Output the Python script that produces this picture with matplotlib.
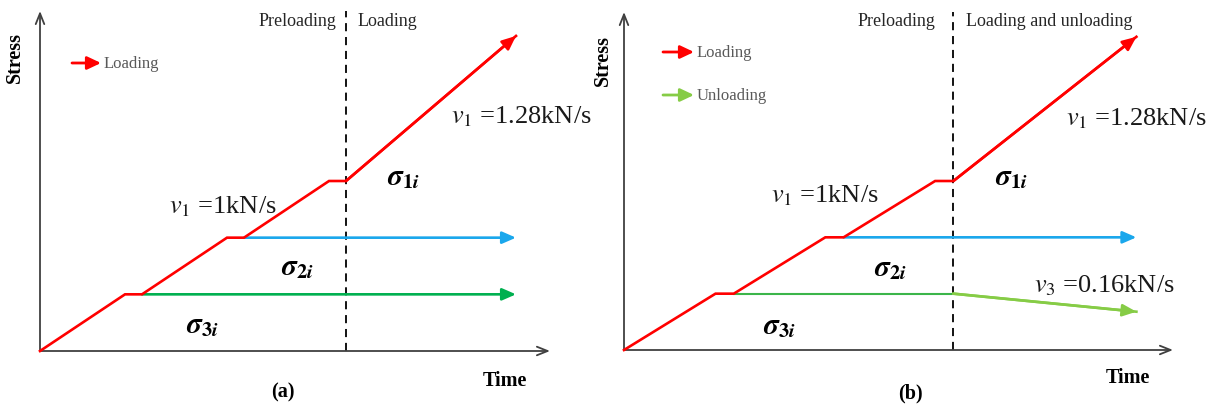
import matplotlib
matplotlib.use("Agg")
import matplotlib.pyplot as plt

plt.rcParams['font.family'] = ['Liberation Serif', 'DejaVu Serif']
plt.rcParams['mathtext.fontset'] = 'stix'

# Loading schedule (time in s, stress in kN): ramp at v1 = 1 kN/s with
# short holds, then the final ramp at v1 = 1.28 kN/s
time_pts = [0, 1, 1.2, 2.2, 2.4, 3.4, 3.6, 5.6]
stress_pts = [0, 1, 1, 2, 2, 3, 3, 3 + 1.28 * 2]

sigma3_level = 1.0
sigma2_level = 2.0
t_sigma3_start = 1.2
t_sigma2_start = 2.4
t_switch = 3.6
t_end = 5.6
v3_rate = 0.16
unload_time = [t_switch, t_end]
unload_stress = [sigma3_level, sigma3_level - v3_rate * (t_end - t_switch)]

axis_max = 6.0

RED = '#ff0000'
BLUE = '#1aa7ec'
GREEN = '#00b050'
GREEN_B = '#3cb54a'
LIGHT_GREEN = '#86cc46'
AXIS = '#404040'
GREY_TXT = '#595959'
TXT = '#1a1a1a'

W, H = 1213, 406
fig = plt.figure(figsize=(W / 100, H / 100), dpi=100)


def fpos(x, y):
    return x / W, 1 - y / H


def ftext(x, y, s, **kw):
    fx, fy = fpos(x, y)
    fig.text(fx, fy, s, transform=fig.transFigure, **kw)


def arrow(ax, p0, p1, color, lw, **kw):
    ax.annotate('', xy=p1, xytext=p0,
                arrowprops=dict(arrowstyle='-|>,head_length=0.55,head_width=0.24',
                                color=color, lw=lw, shrinkA=0, shrinkB=0,
                                mutation_scale=15),
                annotation_clip=False, **kw)


def axes_frame(ax):
    ax.set_xlim(0, axis_max)
    ax.set_ylim(0, axis_max)
    ax.axis('off')
    for end in [(axis_max, 0), (0, axis_max)]:
        ax.annotate('', xy=end, xytext=(0, 0),
                    arrowprops=dict(arrowstyle='->,head_length=0.55,head_width=0.22',
                                    color=AXIS, lw=1.3, shrinkA=0, shrinkB=0,
                                    mutation_scale=14),
                    annotation_clip=False)
    ax.plot([t_switch, t_switch], [0, axis_max], color='black', lw=1.3,
            linestyle=(0, (4.5, 3.2)), clip_on=False)


def loading_path(ax):
    ax.plot(time_pts, stress_pts, color=RED, lw=1.9, solid_joinstyle='miter',
            clip_on=False, zorder=4)
    arrow(ax, (time_pts[-2], stress_pts[-2]), (time_pts[-1], stress_pts[-1]), RED, 1.9)


# ---- panel (a)
ax_a = fig.add_axes([40 / W, (H - 352) / H, 510 / W, 340 / H])
axes_frame(ax_a)
arrow(ax_a, (t_sigma2_start, sigma2_level), (t_end, sigma2_level), BLUE, 1.9)
arrow(ax_a, (t_sigma3_start, sigma3_level), (t_end, sigma3_level), GREEN, 1.9)
loading_path(ax_a)

# ---- panel (b)
ax_b = fig.add_axes([624 / W, (H - 351) / H, 549 / W, 338 / H])
axes_frame(ax_b)
arrow(ax_b, (t_sigma2_start, sigma2_level), (t_end, sigma2_level), BLUE, 1.9)
ax_b.plot([t_sigma3_start, t_switch], [sigma3_level, sigma3_level], color=GREEN_B, lw=1.5)
ax_b.plot(unload_time, unload_stress, color=LIGHT_GREEN, lw=1.9)
arrow(ax_b, (unload_time[0], unload_stress[0]), (unload_time[1], unload_stress[1]),
      LIGHT_GREEN, 1.9)
loading_path(ax_b)

# ---- legend arrows
def legend_arrow(x0, x1, y, color, label):
    fig.add_artist(matplotlib.patches.FancyArrowPatch(
        fpos(x0, y), fpos(x1, y), transform=fig.transFigure,
        arrowstyle='-|>,head_length=0.55,head_width=0.26', mutation_scale=15,
        color=color, lw=2.0, shrinkA=0, shrinkB=0))
    ftext(x1 + 3, y, label, color=GREY_TXT, fontsize=12, ha='left', va='center')


legend_arrow(72, 101, 64, RED, 'Loading')
legend_arrow(663, 694, 53, RED, 'Loading')
legend_arrow(663, 694, 96, LIGHT_GREEN, 'Unloading')

# ---- phase labels
ftext(336, 22, 'Preloading', fontsize=13, ha='right', va='center', color='#262626')
ftext(358, 22, 'Loading', fontsize=13, ha='left', va='center', color='#262626')
ftext(935, 22, 'Preloading', fontsize=13, ha='right', va='center', color='#262626')
ftext(966, 22, 'Loading and unloading', fontsize=13, ha='left', va='center', color='#262626')

# ---- rate labels
rate_kw = dict(fontsize=19, ha='left', va='center', color=TXT)
ftext(451, 117, r'$v_1$ =1.28kN/s', **rate_kw)
ftext(169, 207, r'$v_1$ =1kN/s', **rate_kw)
ftext(1066, 119, r'$v_1$ =1.28kN/s', **rate_kw)
ftext(771, 196, r'$v_1$ =1kN/s', **rate_kw)
ftext(1034, 286, r'$v_3$ =0.16kN/s', **rate_kw)

# ---- stress labels
s1 = r'$\mathbfit{\sigma}_{\mathbf{1}\mathbfit{i}}$'
s2 = r'$\mathbfit{\sigma}_{\mathbf{2}\mathbfit{i}}$'
s3 = r'$\mathbfit{\sigma}_{\mathbf{3}\mathbfit{i}}$'
for x, y, s in [(403, 178, s1), (297, 268, s2), (202, 326, s3),
                (1011, 178, s1), (890, 269, s2), (779, 327, s3)]:
    ftext(x, y, s, fontsize=21, ha='center', va='center', color='black')

# ---- axis names and panel tags
ftext(505, 381, 'Time', fontsize=14.5, fontweight='bold', ha='center', va='center')
ftext(1128, 378, 'Time', fontsize=14.5, fontweight='bold', ha='center', va='center')
ftext(15, 58, 'Stress', fontsize=14.5, fontweight='bold', ha='center', va='center',
      rotation=90)
ftext(603, 60, 'Stress', fontsize=14.5, fontweight='bold', ha='center', va='center',
      rotation=90)
ftext(283, 392, '(a)', fontsize=14.5, fontweight='bold', ha='center', va='center')
ftext(910, 393, '(b)', fontsize=14.5, fontweight='bold', ha='center', va='center')

fig.savefig('out.png', dpi=100)
